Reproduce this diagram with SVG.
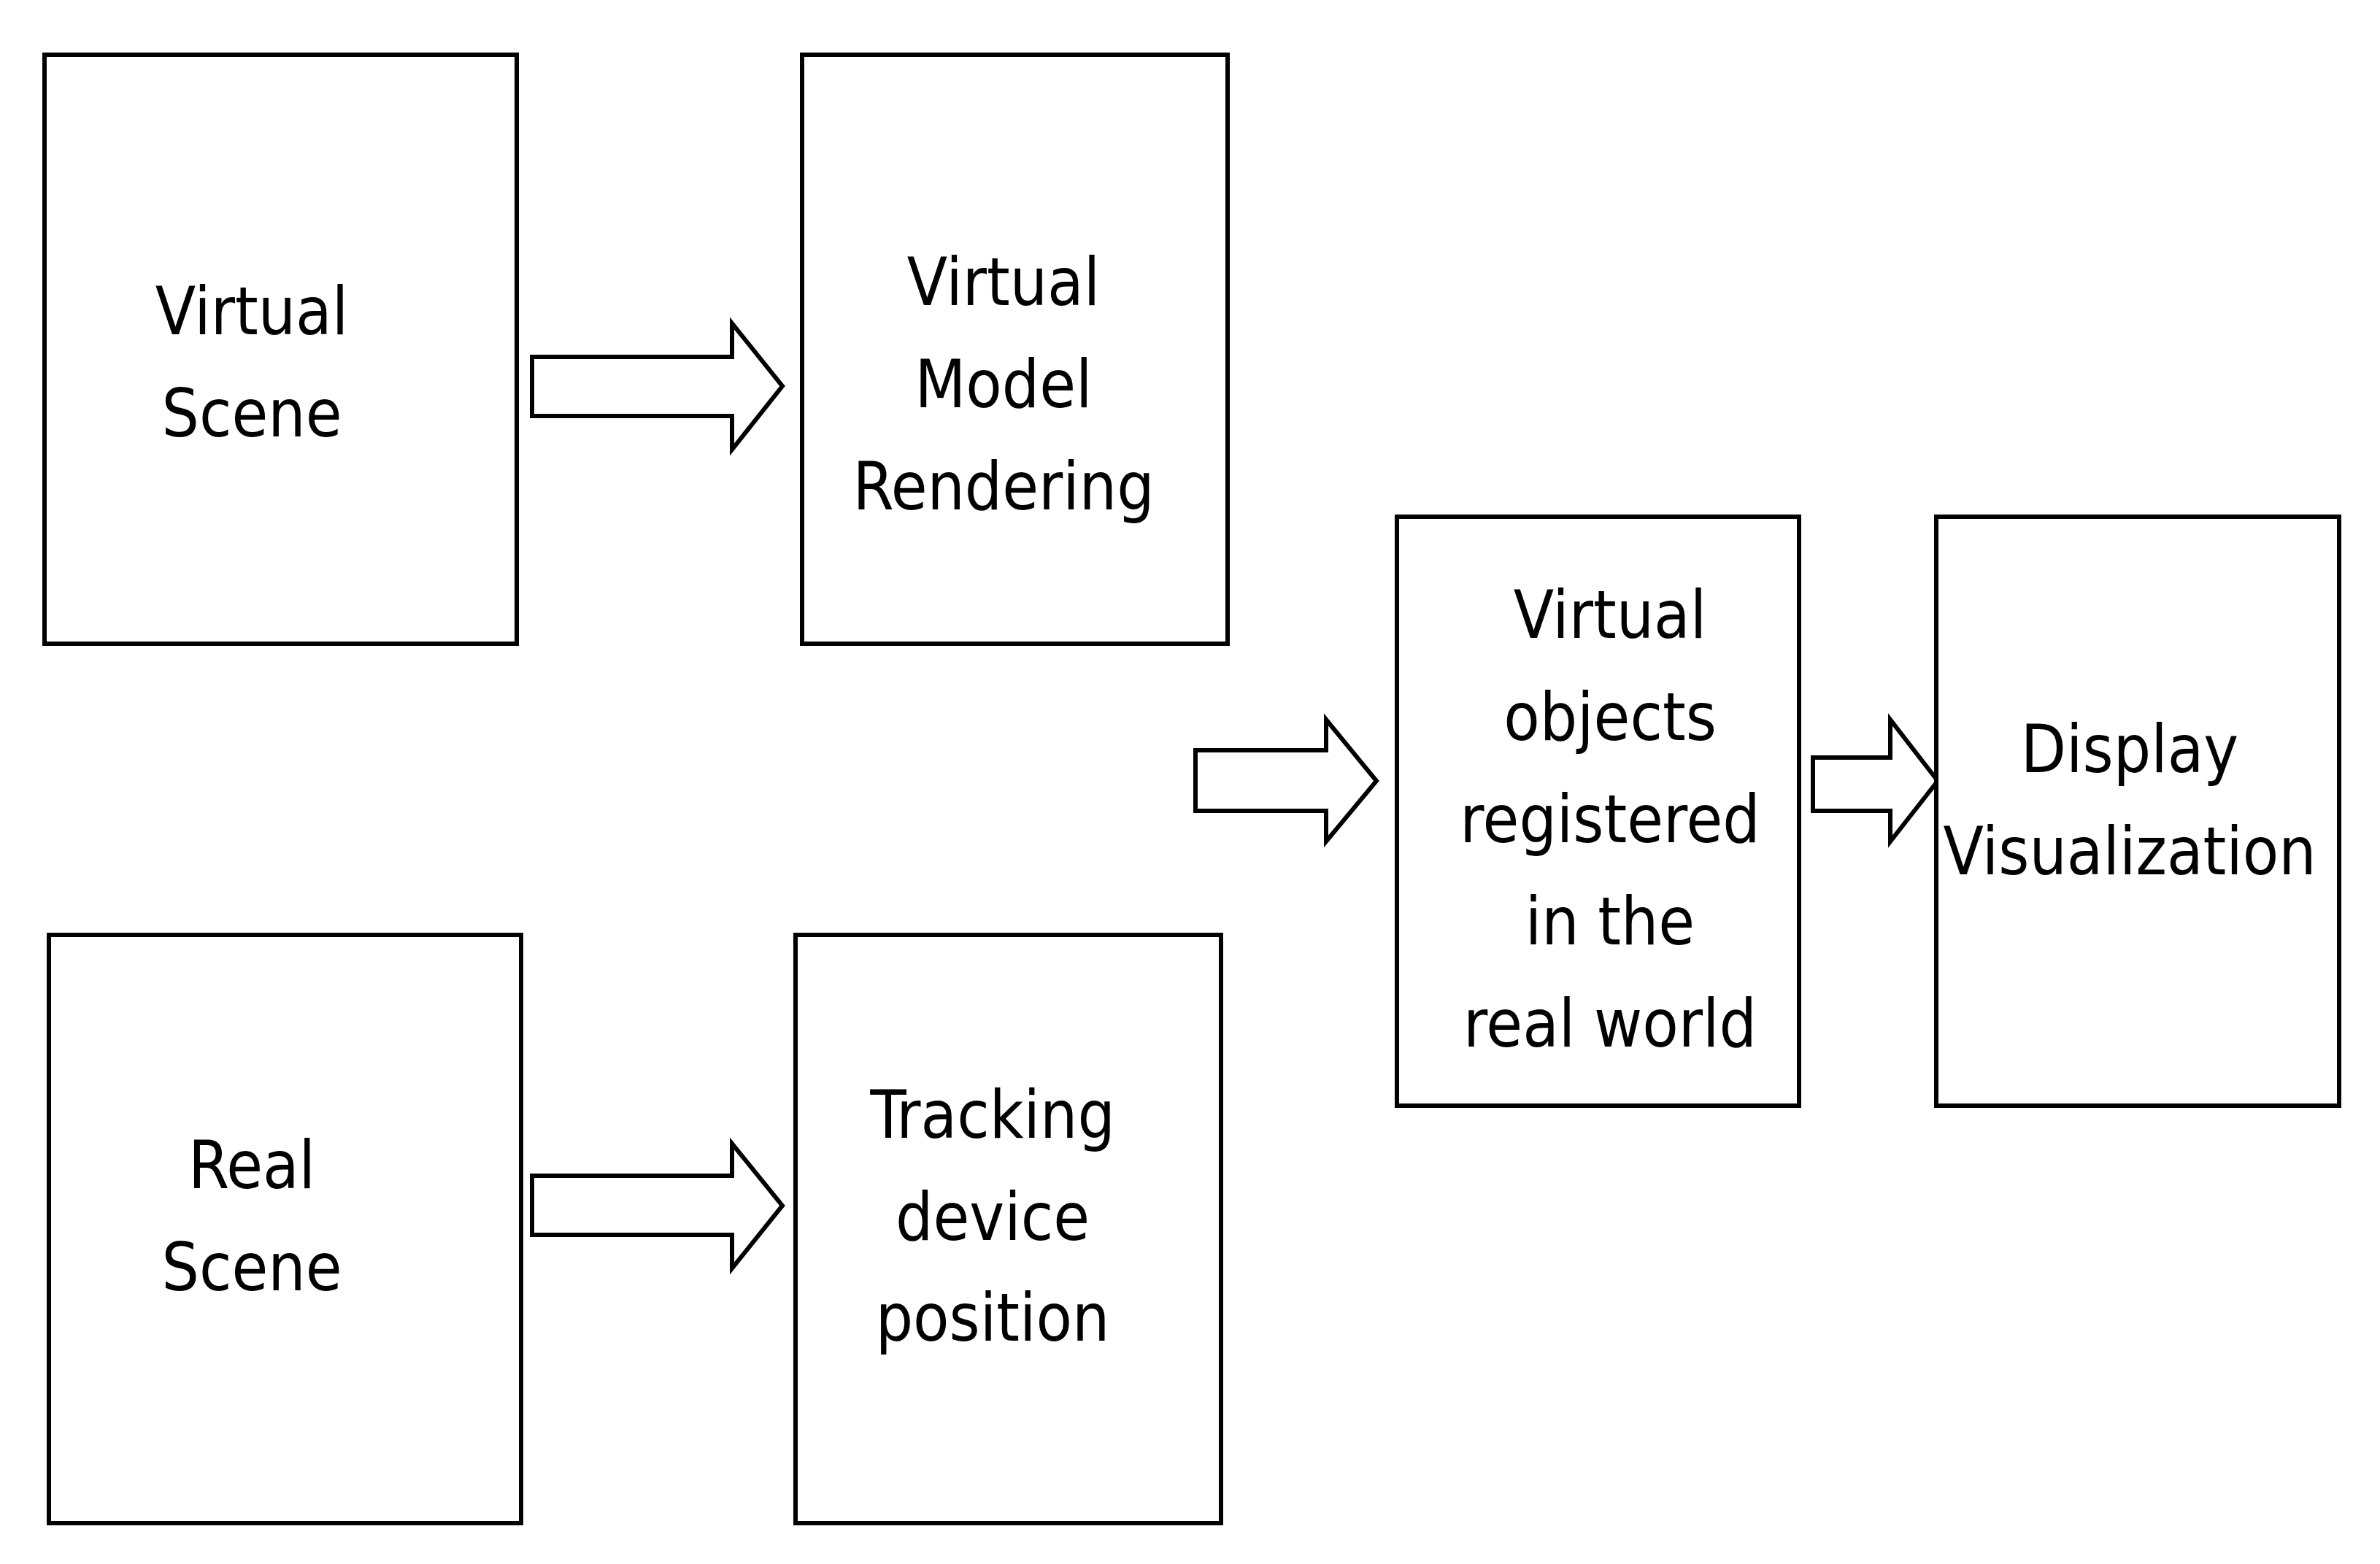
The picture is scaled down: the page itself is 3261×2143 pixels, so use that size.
<svg xmlns="http://www.w3.org/2000/svg" width="3261" height="2143" viewBox="0 0 3261 2143">
<style>
.b{fill:#fff;stroke:#000;stroke-width:6}
.a{fill:#fff;stroke:#000;stroke-width:6;stroke-linejoin:miter}
text{font-family:"DejaVu Sans Condensed","Liberation Sans",sans-serif;font-size:90px;text-anchor:middle;fill:#000}
</style>
<rect width="3261" height="2143" fill="#fff"/>
<g id="connectors">
<polygon class="a" points="729,489 1003,489 1003,443 1072,529 1003,616 1003,570 729,570"/>
<polygon class="a" points="729,1611 1003,1611 1003,1567 1072,1652 1003,1738 1003,1692 729,1692"/>
<polygon class="a" points="1638,1028 1817,1028 1817,986 1886,1070 1817,1153 1817,1111 1638,1111"/>
<polygon class="a" points="2484,1038 2590,1038 2590,986 2655,1070 2590,1153 2590,1111 2484,1111"/>
</g>
<g id="virtual-scene"><rect class="b" x="61" y="75" width="647" height="807"/><text x="345" y="458">Virtual</text><text x="345" y="598">Scene</text></g>
<g id="virtual-model"><rect class="b" x="1099" y="75" width="583" height="807"/><text x="1375" y="418">Virtual</text><text x="1375" y="558">Model</text><text x="1375" y="698">Rendering</text></g>
<g id="real-scene"><rect class="b" x="67" y="1281" width="647" height="806"/><text x="345" y="1628">Real</text><text x="345" y="1768">Scene</text></g>
<g id="tracking"><rect class="b" x="1090" y="1281" width="583" height="806"/><text x="1360" y="1559">Tracking</text><text x="1360" y="1699">device</text><text x="1360" y="1837">position</text></g>
<g id="virtual-objects"><rect class="b" x="1914" y="708" width="551" height="807"/><text x="2206" y="874">Virtual</text><text x="2206" y="1014">objects</text><text x="2206" y="1154">registered</text><text x="2206" y="1294">in the</text><text x="2206" y="1434">real world</text></g>
<g id="display"><rect class="b" x="2653" y="708" width="552" height="807"/><text x="2918" y="1058">Display</text><text x="2918" y="1198">Visualization</text></g>
</svg>
